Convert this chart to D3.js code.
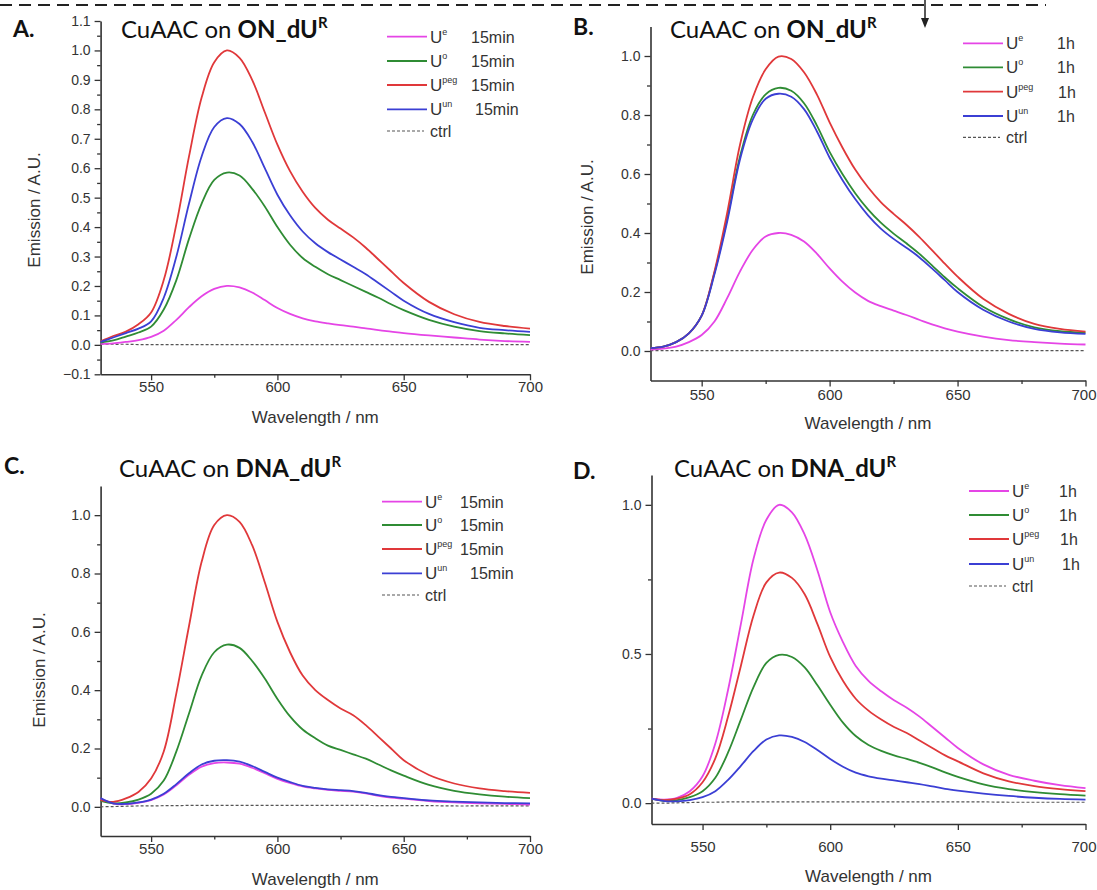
<!DOCTYPE html>
<html>
<head>
<meta charset="utf-8">
<script src="https://cdn.jsdelivr.net/npm/d3@7"></script>
<style>
  body { margin: 0; background: #fff; }
  svg { display: block; }
  .tick text { font-family: "Liberation Sans", Arial, sans-serif; }
</style>
</head>
<body>
<svg width="1097" height="890"></svg>
<script>
// wavelength grid shared by all spectra (nm)
const wavelengths = [530, 535, 540, 545, 550, 555, 560, 565, 570, 575, 580, 585, 590, 595, 600,
  605, 610, 615, 620, 625, 630, 635, 640, 645, 650, 660, 670, 680, 690, 700];

// A. ON_dU^R, 15 min
const aUe = [0.003, 0.005, 0.01, 0.016, 0.027, 0.048, 0.085, 0.128, 0.165, 0.19, 0.2, 0.195, 0.178, 0.152, 0.125, 0.105, 0.09, 0.08, 0.073, 0.067, 0.062, 0.056, 0.05, 0.045, 0.04, 0.032, 0.025, 0.018, 0.013, 0.01];
const aUo = [0.008, 0.015, 0.028, 0.042, 0.062, 0.12, 0.22, 0.36, 0.48, 0.56, 0.585, 0.575, 0.53, 0.47, 0.4, 0.34, 0.295, 0.265, 0.24, 0.22, 0.2, 0.18, 0.16, 0.138, 0.118, 0.085, 0.062, 0.047, 0.039, 0.033];
const aUpeg = [0.012, 0.03, 0.045, 0.07, 0.11, 0.22, 0.41, 0.64, 0.84, 0.96, 1.0, 0.975, 0.9, 0.79, 0.68, 0.59, 0.52, 0.465, 0.425, 0.395, 0.365, 0.33, 0.29, 0.25, 0.21, 0.146, 0.104, 0.078, 0.064, 0.055];
const aUun = [0.01, 0.025, 0.04, 0.055, 0.08, 0.16, 0.3, 0.48, 0.64, 0.74, 0.77, 0.75, 0.69, 0.6, 0.51, 0.44, 0.385, 0.345, 0.315, 0.29, 0.265, 0.24, 0.21, 0.18, 0.15, 0.105, 0.077, 0.058, 0.05, 0.044];
const aCtrl = [0.003, 0.002, 0.002, 0.001, 0.001, 0.001, 0.001, 0.001, 0.001, 0.001, 0.001, 0.001, 0.001, 0.001, 0.001, 0.001, 0.001, 0.001, 0.001, 0.001, 0.001, 0.001, 0.001, 0.001, 0.001, 0.001, 0.001, 0.001, 0.001, 0.001];

// B. ON_dU^R, 1 h
const bUe = [0.005, 0.008, 0.015, 0.03, 0.054, 0.1, 0.18, 0.27, 0.343, 0.388, 0.4, 0.394, 0.371, 0.33, 0.28, 0.235, 0.198, 0.17, 0.152, 0.137, 0.122, 0.106, 0.09, 0.077, 0.066, 0.049, 0.037, 0.03, 0.025, 0.022];
const bUo = [0.01, 0.015, 0.03, 0.06, 0.12, 0.265, 0.45, 0.66, 0.8, 0.87, 0.892, 0.882, 0.84, 0.765, 0.675, 0.6, 0.535, 0.48, 0.435, 0.398, 0.365, 0.33, 0.29, 0.25, 0.213, 0.15, 0.108, 0.08, 0.067, 0.062];
const bUpeg = [0.01, 0.015, 0.03, 0.06, 0.12, 0.27, 0.47, 0.7, 0.86, 0.955, 0.998, 0.99, 0.945, 0.87, 0.775, 0.69, 0.615, 0.555, 0.505, 0.465, 0.428, 0.387, 0.342, 0.296, 0.252, 0.177, 0.126, 0.092, 0.075, 0.066];
const bUun = [0.01, 0.015, 0.03, 0.06, 0.12, 0.26, 0.44, 0.65, 0.785, 0.855, 0.872, 0.862, 0.82, 0.745, 0.655, 0.58, 0.515, 0.46, 0.415, 0.38, 0.35, 0.318, 0.28, 0.24, 0.2, 0.14, 0.1, 0.075, 0.063, 0.058];
const bCtrl = [0.001, 0.001, 0.001, 0.001, 0.001, 0.001, 0.001, 0.001, 0.001, 0.001, 0.001, 0.001, 0.001, 0.001, 0.001, 0.001, 0.001, 0.001, 0.001, 0.001, 0.001, 0.001, 0.001, 0.001, 0.001, 0.001, 0.001, 0.001, 0.001, 0.001];

// C. DNA_dU^R, 15 min
const cUe = [0.028, 0.011, 0.009, 0.014, 0.023, 0.042, 0.074, 0.11, 0.138, 0.15, 0.152, 0.148, 0.134, 0.115, 0.096, 0.082, 0.07, 0.063, 0.058, 0.055, 0.052, 0.046, 0.038, 0.032, 0.028, 0.02, 0.015, 0.012, 0.01, 0.008];
const cUo = [0.02, 0.012, 0.015, 0.025, 0.045, 0.09, 0.19, 0.32, 0.45, 0.53, 0.556, 0.545, 0.5, 0.44, 0.37, 0.31, 0.265, 0.235, 0.21, 0.195, 0.18, 0.165, 0.145, 0.125, 0.107, 0.075, 0.055, 0.043, 0.035, 0.03];
const cUpeg = [0.023, 0.017, 0.029, 0.051, 0.097, 0.19, 0.39, 0.62, 0.84, 0.966, 1.0, 0.977, 0.897, 0.77, 0.634, 0.53, 0.45, 0.4, 0.366, 0.337, 0.314, 0.28, 0.24, 0.2, 0.16, 0.109, 0.08, 0.063, 0.054, 0.048];
const cUun = [0.03, 0.012, 0.01, 0.015, 0.025, 0.045, 0.078, 0.115, 0.145, 0.158, 0.16, 0.155, 0.14, 0.12, 0.1, 0.085, 0.072, 0.065, 0.06, 0.057, 0.054, 0.048, 0.04, 0.034, 0.03, 0.022, 0.018, 0.015, 0.013, 0.012];
const cCtrl = [0.0, 0.001, 0.002, 0.003, 0.003, 0.004, 0.004, 0.005, 0.005, 0.005, 0.005, 0.005, 0.005, 0.005, 0.005, 0.005, 0.005, 0.005, 0.005, 0.005, 0.005, 0.005, 0.004, 0.004, 0.004, 0.004, 0.003, 0.003, 0.003, 0.003];

// D. DNA_dU^R, 1 h
const dUe = [0.015, 0.012, 0.018, 0.04, 0.09, 0.2, 0.38, 0.6, 0.82, 0.95, 1.0, 0.975, 0.9, 0.78, 0.64, 0.54, 0.46, 0.41, 0.375, 0.345, 0.32, 0.29, 0.255, 0.22, 0.185, 0.13, 0.095, 0.075, 0.06, 0.05];
const dUo = [0.015, 0.008, 0.01, 0.02, 0.04, 0.085, 0.17, 0.28, 0.39, 0.47, 0.497, 0.49, 0.455, 0.395, 0.33, 0.27, 0.225, 0.195, 0.175, 0.16, 0.148, 0.135, 0.12, 0.103, 0.088, 0.063, 0.047, 0.037, 0.03, 0.025];
const dUpeg = [0.015, 0.01, 0.015, 0.03, 0.07, 0.15, 0.29, 0.46, 0.63, 0.74, 0.773, 0.755, 0.7, 0.6, 0.49, 0.41, 0.35, 0.31, 0.28, 0.255, 0.235, 0.21, 0.185, 0.16, 0.14, 0.1, 0.073, 0.057, 0.047, 0.04];
const dUun = [0.015, 0.007, 0.006, 0.01, 0.02, 0.04, 0.078, 0.125, 0.175, 0.213, 0.227, 0.222, 0.205, 0.178, 0.148, 0.122, 0.102, 0.09, 0.082, 0.076, 0.07, 0.064, 0.056, 0.048, 0.042, 0.032, 0.024, 0.018, 0.014, 0.012];
const dCtrl = [0.0, 0.0, 0.001, 0.002, 0.003, 0.003, 0.004, 0.004, 0.004, 0.004, 0.004, 0.004, 0.004, 0.004, 0.004, 0.004, 0.004, 0.004, 0.004, 0.004, 0.004, 0.004, 0.004, 0.004, 0.004, 0.004, 0.003, 0.003, 0.003, 0.003];

const seriesNames = ["e", "o", "peg", "un"];
const xTicks = [550, 600, 650, 700];
const xMinor = [575, 625, 675];

const colors = { e: "#e545e6", o: "#2f8c34", peg: "#e0383a", un: "#3b3fd4", ctrl: "#555" };
const sans = "'Liberation Sans', Arial, sans-serif";
const titleFont = "Lato, 'Noto Sans', sans-serif";

const svg = d3.select("svg");
const svgWidth = +svg.attr("width");

// dashed separator with the small arrow on top
svg.append("line")
  .attr("x1", 0).attr("x2", 1046).attr("y1", 5).attr("y2", 5)
  .attr("stroke", "#222").attr("stroke-width", 2).attr("stroke-dasharray", "12,7");
svg.append("line")
  .attr("x1", 925).attr("x2", 925).attr("y1", 0).attr("y2", 20)
  .attr("stroke", "#222").attr("stroke-width", 1.5);
svg.append("path")
  .attr("d", "M921,18 L929,18 L925,28 Z").attr("fill", "#222");

const panels = [
  { letter: "A.", target: "ON_dU", time: "15min", series: [aUe, aUo, aUpeg, aUun], ctrl: aCtrl,
    x0: 100.6, x1: 530, yTop: 21, yBot: 374.3, yDomain: [-0.1, 1.1],
    yTicks: d3.range(-1, 12).map(d => d / 10), yMinor: d3.range(-1, 11).map(d => d / 10 + 0.05), yFmt: d3.format(".1f"),
    letterX: 13, letterY: 37, titleX: 121, titleY: 38,
    legX: 387, legRows: [36.7, 61, 85, 109.3, 131], timeX: [471, 471, 471, 475],
    yLabel: { x: 40, y: 210 }, xLabelY: 423, xTickY: 397 },
  { letter: "B.", target: "ON_dU", time: "1h", series: [bUe, bUo, bUpeg, bUun], ctrl: bCtrl,
    x0: 650.5, x1: 1085.5, yTop: 26.5, yBot: 380.5, yDomain: [-0.1, 1.1],
    yTicks: [0, 0.2, 0.4, 0.6, 0.8, 1.0], yMinor: [0.1, 0.3, 0.5, 0.7, 0.9], yFmt: d3.format(".1f"),
    letterX: 573, letterY: 35, titleX: 670, titleY: 38,
    legX: 963, legRows: [43.3, 67.3, 91.7, 116, 137.3], timeX: [1057, 1057, 1058, 1057],
    yLabel: { x: 593, y: 217 }, xLabelY: 429, xTickY: 405 },
  { letter: "C.", target: "DNA_dU", time: "15min", series: [cUe, cUo, cUpeg, cUun], ctrl: cCtrl,
    x0: 100.6, x1: 530, yTop: 486, yBot: 836, yDomain: [-0.1, 1.1],
    yTicks: [0, 0.2, 0.4, 0.6, 0.8, 1.0], yMinor: [0.1, 0.3, 0.5, 0.7, 0.9], yFmt: d3.format(".1f"),
    letterX: 4, letterY: 474, titleX: 119, titleY: 476.5,
    legX: 382, legRows: [501.7, 525, 549, 573.3, 595], timeX: [460, 460, 460, 470],
    yLabel: { x: 45, y: 670 }, xLabelY: 885, xTickY: 859 },
  { letter: "D.", target: "DNA_dU", time: "1h", series: [dUe, dUo, dUpeg, dUun], ctrl: dCtrl,
    x0: 651.5, x1: 1085.5, yTop: 475, yBot: 824, yDomain: [-0.07, 1.1],
    yTicks: [0, 0.5, 1.0], yMinor: [0.25, 0.75], yFmt: d3.format(".1f"),
    letterX: 573, letterY: 479, titleX: 674, titleY: 477,
    legX: 969, legRows: [491, 515, 539, 564, 586], timeX: [1059, 1059, 1060, 1062],
    yLabel: null, xLabelY: 882, xTickY: 857 }
];

const render = (p) => {
  const xScale = d3.scaleLinear().domain([530, 700]).range([p.x0, p.x1]);
  const yScale = d3.scaleLinear().domain(p.yDomain).range([p.yBot, p.yTop]);
  const g = svg.append("g");

  // axes: major ticks with labels, minor ticks without
  const xAxis = g.append("g").attr("transform", `translate(0,${p.yBot})`)
    .call(d3.axisBottom(xScale).tickValues(xTicks).tickSize(6).tickSizeOuter(0).tickPadding(4));
  g.append("g").attr("transform", `translate(0,${p.yBot})`)
    .call(d3.axisBottom(xScale).tickValues(xMinor).tickSize(3.5).tickFormat(""))
    .select(".domain").remove();
  xAxis.selectAll(".tick text").attr("y", p.xTickY - p.yBot - 5).attr("dy", "0")
    .attr("font-size", 15).attr("fill", "#333");
  // keep the last label inside the page on the right-hand panels
  xAxis.selectAll(".tick text").each(function (d) {
    const half = this.getComputedTextLength() / 2;
    const over = xScale(d) + half - (svgWidth - 1);
    if (over > 0) d3.select(this).attr("x", -over);
  });

  const yAxis = g.append("g").attr("transform", `translate(${p.x0},0)`)
    .call(d3.axisLeft(yScale).tickValues(p.yTicks).tickFormat(p.yFmt).tickSize(6).tickSizeOuter(0).tickPadding(4));
  g.append("g").attr("transform", `translate(${p.x0},0)`)
    .call(d3.axisLeft(yScale).tickValues(p.yMinor).tickSize(3.5).tickFormat(""))
    .select(".domain").remove();
  yAxis.selectAll(".tick text").attr("font-size", 14).attr("fill", "#333");

  g.selectAll(".domain").attr("stroke", "#333").attr("stroke-width", 1.6);
  g.selectAll(".tick line").attr("stroke", "#333").attr("stroke-width", 1.3);

  // axis titles
  g.append("text")
    .attr("x", (p.x0 + p.x1) / 2).attr("y", p.xLabelY)
    .attr("text-anchor", "middle").attr("font-family", sans).attr("font-size", 17).attr("fill", "#333")
    .text("Wavelength / nm");
  if (p.yLabel) {
    g.append("text")
      .attr("transform", `translate(${p.yLabel.x},${p.yLabel.y}) rotate(-90)`)
      .attr("text-anchor", "middle").attr("font-family", sans).attr("font-size", 17).attr("fill", "#333")
      .text("Emission / A.U.");
  }

  // spectra
  const line = d3.line()
    .x((d, i) => xScale(wavelengths[i]))
    .y((d) => yScale(d))
    .curve(d3.curveCatmullRom.alpha(0.5));

  g.append("path").datum(p.ctrl).attr("d", line)
    .attr("fill", "none").attr("stroke", colors.ctrl).attr("stroke-width", 1.2).attr("stroke-dasharray", "3,2");
  [0, 1, 2, 3].forEach((k) => {
    g.append("path").datum(p.series[k]).attr("d", line)
      .attr("fill", "none").attr("stroke", colors[seriesNames[k]]).attr("stroke-width", 1.8);
  });

  // panel letter and title
  g.append("text").attr("x", p.letterX).attr("y", p.letterY)
    .attr("font-family", titleFont).attr("font-weight", "bold").attr("font-size", 23).attr("fill", "#111")
    .text(p.letter);
  const title = g.append("text").attr("x", p.titleX).attr("y", p.titleY)
    .attr("font-family", titleFont).attr("font-size", 24).attr("fill", "#111");
  title.append("tspan").text("CuAAC on ");
  title.append("tspan").attr("font-weight", "bold").text(p.target);
  title.append("tspan").attr("font-weight", "bold").attr("font-size", 15).attr("dy", -10).text("R");

  // legend
  const leg = g.append("g");
  seriesNames.forEach((name, k) => {
    const cy = p.legRows[k];
    leg.append("line").attr("x1", p.legX).attr("x2", p.legX + 40).attr("y1", cy).attr("y2", cy)
      .attr("stroke", colors[name]).attr("stroke-width", 1.8);
    const t = leg.append("text").attr("x", p.legX + 43).attr("y", cy + 6)
      .attr("font-family", sans).attr("font-size", 17).attr("fill", "#333");
    t.append("tspan").text("U");
    t.append("tspan").attr("font-size", 9).attr("dy", -8).text(name);
    leg.append("text").attr("x", p.timeX[k]).attr("y", cy + 6)
      .attr("font-family", sans).attr("font-size", 16).attr("fill", "#333").text(p.time);
  });
  const cy = p.legRows[4];
  leg.append("line").attr("x1", p.legX).attr("x2", p.legX + 37).attr("y1", cy).attr("y2", cy)
    .attr("stroke", colors.ctrl).attr("stroke-width", 1.2).attr("stroke-dasharray", "3,2");
  leg.append("text").attr("x", p.legX + 43).attr("y", cy + 6)
    .attr("font-family", sans).attr("font-size", 16).attr("fill", "#333").text("ctrl");
};

panels.forEach(render);
</script>
</body>
</html>
